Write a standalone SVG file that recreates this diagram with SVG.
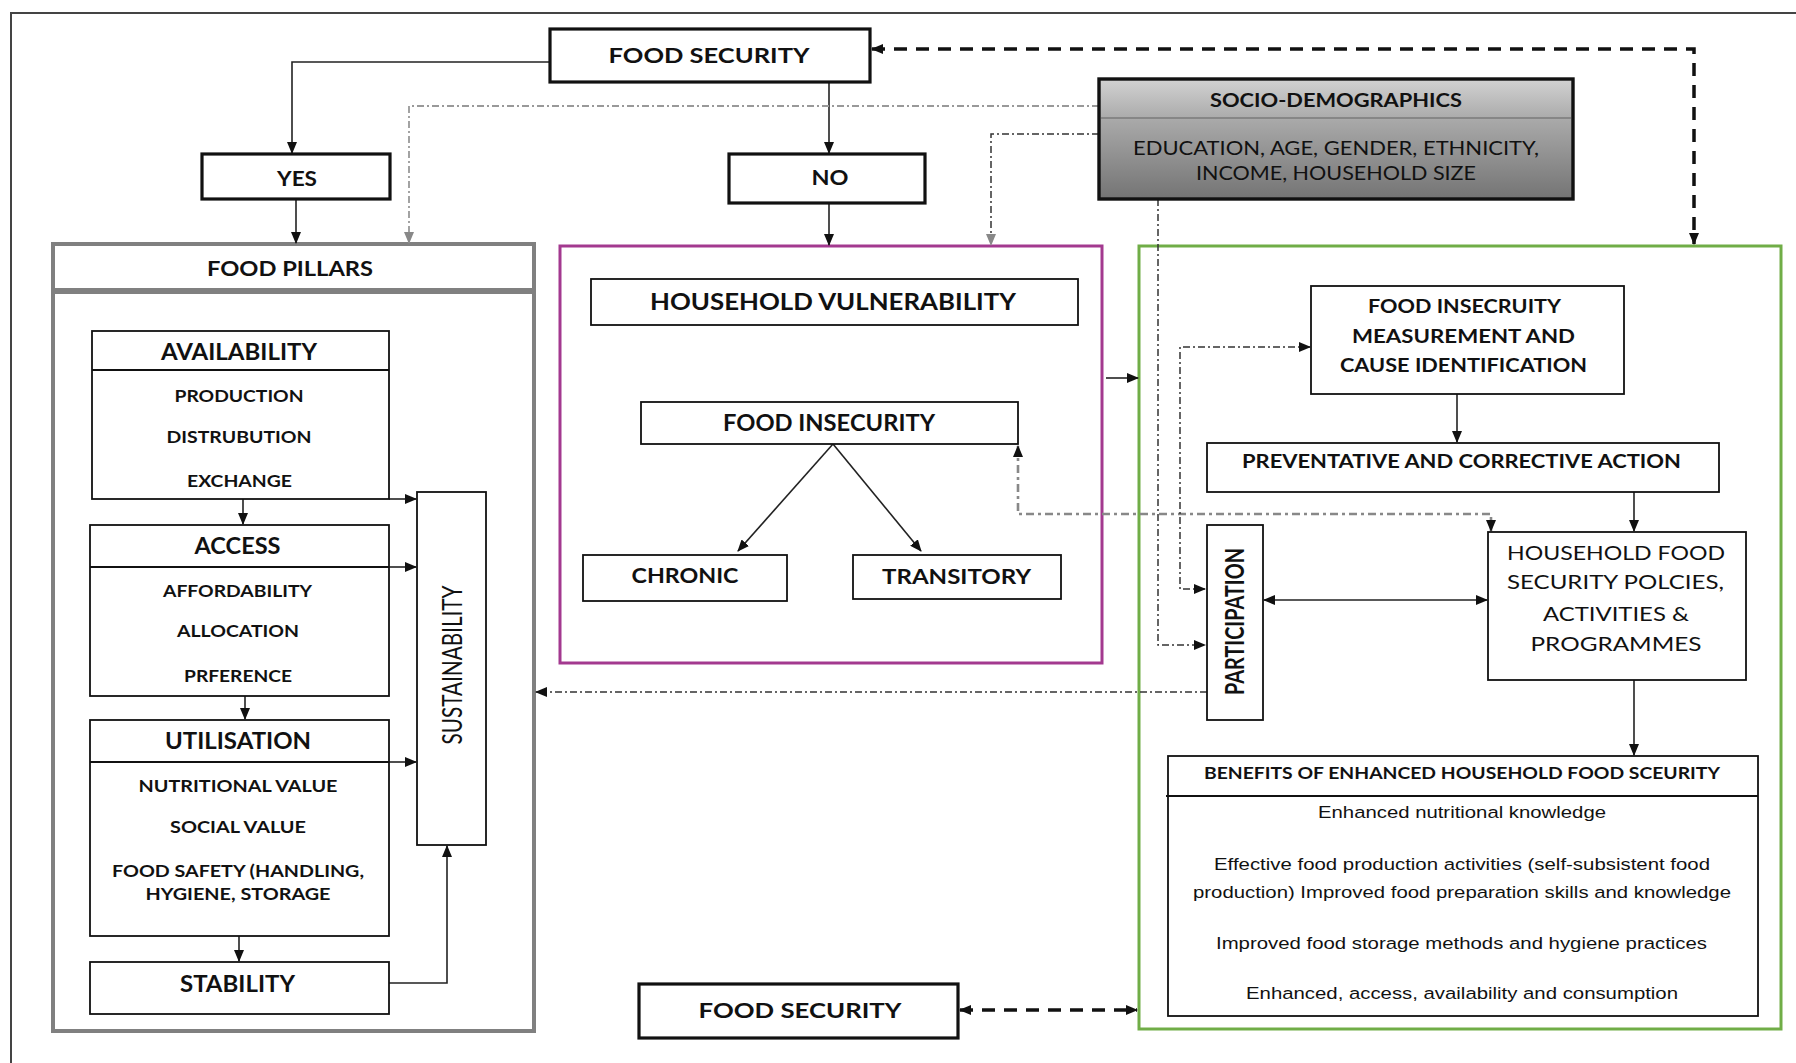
<svg xmlns="http://www.w3.org/2000/svg" width="1796" height="1063" viewBox="0 0 1796 1063">
<style>
.t{font-family:Lato,"Open Sans","Liberation Sans",sans-serif;fill:#111;text-anchor:middle}
.b{font-weight:700}
.ar{font-family:"Liberation Sans",Arial,sans-serif;fill:#111;text-anchor:middle}
.box{fill:#fff;stroke:#111;stroke-width:1.8}
.thick{fill:#fff;stroke:#111;stroke-width:3.2}
.ln{fill:none;stroke:#222;stroke-width:1.6}
.dd{fill:none;stroke:#333;stroke-width:1.5;stroke-dasharray:7,3,2,3}
.ddg{fill:none;stroke:#999;stroke-width:1.8;stroke-dasharray:7,3,2,3}
.ddg2{fill:none;stroke:#888;stroke-width:2.6;stroke-dasharray:8,4,3,4}
.dash{fill:none;stroke:#111;stroke-width:3.5;stroke-dasharray:13,9}
</style>
<defs>
<marker id="a" markerUnits="userSpaceOnUse" markerWidth="12" markerHeight="10" refX="11" refY="5" orient="auto-start-reverse"><path d="M0,0 L12,5 L0,10 z" fill="#111"/></marker>
<marker id="ag" markerUnits="userSpaceOnUse" markerWidth="12" markerHeight="10" refX="11" refY="5" orient="auto-start-reverse"><path d="M0,0 L12,5 L0,10 z" fill="#888"/></marker>
<linearGradient id="sg" x1="0" y1="0" x2="0" y2="1"><stop offset="0" stop-color="#d2d2d2"/><stop offset="0.35" stop-color="#a8a8a8"/><stop offset="1" stop-color="#747474"/></linearGradient>
</defs>
<rect width="1796" height="1063" fill="#fff"/>
<g id="frame"><path d="M1796,13 H11 V1063" fill="none" stroke="#444" stroke-width="2"/></g>

<g id="containers">
<rect x="53" y="244" width="481" height="46" fill="#fff" stroke="#808080" stroke-width="4"/>
<rect x="53" y="292" width="481" height="739" fill="#fff" stroke="#808080" stroke-width="4"/>
<rect x="560" y="246" width="542" height="417" fill="none" stroke="#a3398f" stroke-width="3"/>
<rect x="1139" y="246" width="642" height="783" fill="none" stroke="#70ad47" stroke-width="3"/>
</g>

<g id="connectors">
<path class="ln" d="M550,62 H292 V153" marker-end="url(#a)"/>
<path class="ln" d="M829,82 V153" marker-end="url(#a)"/>
<path class="ln" d="M296,199 V243" marker-end="url(#a)"/>
<path class="ln" d="M829,203 V245" marker-end="url(#a)"/>
<path class="ddg" d="M1099,106 H409 V243" marker-end="url(#ag)"/>
<path class="dd" d="M1099,134 H991 V245" marker-end="url(#ag)"/>
<path class="dd" d="M1158,199 V645 H1205" marker-end="url(#a)"/>
<path class="dash" d="M872,49 H1694 V244" marker-start="url(#a)" marker-end="url(#a)"/>
<path class="ln" d="M1106,378 H1138" marker-end="url(#a)"/>
<path class="ddg2" d="M1018,446 V514 H1491 V531" marker-start="url(#a)" marker-end="url(#a)"/>
<path class="dd" d="M1205,589 H1180 V347 H1310" marker-start="url(#a)" marker-end="url(#a)"/>
<path class="ln" d="M1457,394 V442" marker-end="url(#a)"/>
<path class="ln" d="M1634,492 V531" marker-end="url(#a)"/>
<path class="ln" d="M1264,600 H1487" marker-start="url(#a)" marker-end="url(#a)"/>
<path class="ln" d="M1634,680 V755" marker-end="url(#a)"/>
<path class="dd" d="M1207,692 H536" marker-end="url(#a)"/>
<path class="dash" d="M960,1010 H1137" marker-start="url(#a)" marker-end="url(#a)"/>
<path class="ln" d="M243,499 V524" marker-end="url(#a)"/>
<path class="ln" d="M245,696 V719" marker-end="url(#a)"/>
<path class="ln" d="M239,936 V961" marker-end="url(#a)"/>
<path class="ln" d="M389,499 H416" marker-end="url(#a)"/>
<path class="ln" d="M389,567 H416" marker-end="url(#a)"/>
<path class="ln" d="M389,762 H416" marker-end="url(#a)"/>
<path class="ln" d="M389,983 H447 V846" marker-end="url(#a)"/>
<path class="ln" d="M833,444 L738,551" marker-end="url(#a)"/>
<path class="ln" d="M833,444 L921,551" marker-end="url(#a)"/>
</g>

<g id="food-security-top"><rect class="thick" x="550" y="29" width="320" height="53"/><text class="t b" x="709" y="63" font-size="21" textLength="201" lengthAdjust="spacingAndGlyphs">FOOD SECURITY</text></g>
<g id="yes"><rect class="thick" x="202" y="154" width="188" height="45"/><text class="t b" x="297" y="186" font-size="21" textLength="40" lengthAdjust="spacingAndGlyphs">YES</text></g>
<g id="no"><rect class="thick" x="729" y="154" width="196" height="49"/><text class="t b" x="830" y="185" font-size="21" textLength="37" lengthAdjust="spacingAndGlyphs">NO</text></g>
<g id="food-pillars"><text class="t b" x="290" y="276" font-size="20" textLength="166" lengthAdjust="spacingAndGlyphs">FOOD PILLARS</text></g>

<g id="availability"><rect class="box" x="92" y="331" width="297" height="168"/><line x1="92" y1="370" x2="389" y2="370" stroke="#111" stroke-width="1.8"/>
<text class="t b" x="239" y="360" font-size="22" textLength="156" lengthAdjust="spacingAndGlyphs">AVAILABILITY</text>
<text class="t b" x="239" y="401.5" font-size="17" textLength="129" lengthAdjust="spacingAndGlyphs">PRODUCTION</text>
<text class="t b" x="239" y="443" font-size="17" textLength="145" lengthAdjust="spacingAndGlyphs">DISTRUBUTION</text>
<text class="t b" x="239.5" y="486.5" font-size="17" textLength="105" lengthAdjust="spacingAndGlyphs">EXCHANGE</text></g>
<g id="access"><rect class="box" x="90" y="525" width="299" height="171"/><line x1="90" y1="567" x2="389" y2="567" stroke="#111" stroke-width="1.8"/>
<text class="t b" x="237.5" y="554" font-size="22" textLength="86" lengthAdjust="spacingAndGlyphs">ACCESS</text>
<text class="t b" x="237.5" y="596.5" font-size="17" textLength="149" lengthAdjust="spacingAndGlyphs">AFFORDABILITY</text>
<text class="t b" x="238" y="637" font-size="17" textLength="122" lengthAdjust="spacingAndGlyphs">ALLOCATION</text>
<text class="t b" x="238" y="681.5" font-size="17" textLength="108" lengthAdjust="spacingAndGlyphs">PRFERENCE</text></g>
<g id="utilisation"><rect class="box" x="90" y="720" width="299" height="216"/><line x1="90" y1="762" x2="389" y2="762" stroke="#111" stroke-width="1.8"/>
<text class="t b" x="238" y="749" font-size="22" textLength="146" lengthAdjust="spacingAndGlyphs">UTILISATION</text>
<text class="t b" x="238" y="791.5" font-size="17" textLength="199" lengthAdjust="spacingAndGlyphs">NUTRITIONAL VALUE</text>
<text class="t b" x="238" y="832.5" font-size="17" textLength="136" lengthAdjust="spacingAndGlyphs">SOCIAL VALUE</text>
<text class="t b" x="238" y="877" font-size="17" textLength="252" lengthAdjust="spacingAndGlyphs">FOOD SAFETY (HANDLING,</text>
<text class="t b" x="238" y="900" font-size="17" textLength="185" lengthAdjust="spacingAndGlyphs">HYGIENE, STORAGE</text></g>
<g id="stability"><rect class="box" x="90" y="962" width="299" height="52"/><text class="t b" x="237.5" y="991.5" font-size="22" textLength="115" lengthAdjust="spacingAndGlyphs">STABILITY</text></g>
<g id="sustainability"><rect class="box" x="417" y="492" width="69" height="353"/><text class="t" transform="translate(462,665) rotate(-90)" x="0" y="0" font-size="27" textLength="159" lengthAdjust="spacingAndGlyphs">SUSTAINABILITY</text></g>

<g id="household-vulnerability"><rect class="box" x="591" y="279" width="487" height="46"/><text class="t b" x="833" y="310" font-size="23" textLength="366" lengthAdjust="spacingAndGlyphs">HOUSEHOLD VULNERABILITY</text></g>
<g id="food-insecurity"><rect class="box" x="641" y="402" width="377" height="42"/><text class="t b" x="829" y="431" font-size="22" textLength="212" lengthAdjust="spacingAndGlyphs">FOOD INSECURITY</text></g>
<g id="chronic"><rect class="box" x="583" y="555" width="204" height="46"/><text class="t b" x="685" y="583" font-size="21" textLength="107" lengthAdjust="spacingAndGlyphs">CHRONIC</text></g>
<g id="transitory"><rect class="box" x="853" y="555" width="208" height="44"/><text class="t b" x="956.5" y="584" font-size="21" textLength="149" lengthAdjust="spacingAndGlyphs">TRANSITORY</text></g>

<g id="socio-demographics"><rect x="1099" y="79" width="474" height="120" fill="url(#sg)" stroke="#111" stroke-width="3.4"/><line x1="1101" y1="118" x2="1571" y2="118" stroke="#7a7a7a" stroke-width="1.5"/>
<text class="t b" x="1336" y="107" font-size="18.5" textLength="252" lengthAdjust="spacingAndGlyphs">SOCIO-DEMOGRAPHICS</text>
<text class="t" x="1336" y="155" font-size="18.5" textLength="406" lengthAdjust="spacingAndGlyphs">EDUCATION, AGE, GENDER, ETHNICITY,</text>
<text class="t" x="1336" y="180" font-size="18.5" textLength="280" lengthAdjust="spacingAndGlyphs">INCOME, HOUSEHOLD SIZE</text></g>

<g id="measurement"><rect class="box" x="1311" y="286" width="313" height="108"/>
<text class="t b" x="1464.5" y="313" font-size="18" textLength="193" lengthAdjust="spacingAndGlyphs">FOOD INSECRUITY</text>
<text class="t b" x="1463.5" y="343" font-size="18" textLength="223" lengthAdjust="spacingAndGlyphs">MEASUREMENT AND</text>
<text class="t b" x="1463.5" y="371.5" font-size="18" textLength="247" lengthAdjust="spacingAndGlyphs">CAUSE IDENTIFICATION</text></g>
<g id="preventative"><rect class="box" x="1207" y="443" width="512" height="49"/><text class="t b" x="1461.5" y="468" font-size="18.5" textLength="439" lengthAdjust="spacingAndGlyphs">PREVENTATIVE AND CORRECTIVE ACTION</text></g>
<g id="household-food-policies"><rect class="box" x="1488" y="532" width="258" height="148"/>
<text class="t" x="1616" y="560" font-size="19.5" textLength="218" lengthAdjust="spacingAndGlyphs">HOUSEHOLD FOOD</text>
<text class="t" x="1615.5" y="589" font-size="19.5" textLength="217" lengthAdjust="spacingAndGlyphs">SECURITY POLCIES,</text>
<text class="t" x="1616" y="620.5" font-size="19.5" textLength="146" lengthAdjust="spacingAndGlyphs">ACTIVITIES &amp;</text>
<text class="t" x="1616" y="650.5" font-size="19.5" textLength="171" lengthAdjust="spacingAndGlyphs">PROGRAMMES</text></g>
<g id="participation"><rect class="box" x="1207" y="525" width="56" height="195"/><text class="t b" transform="translate(1244,621.5) rotate(-90)" x="0" y="0" font-size="26" textLength="147" lengthAdjust="spacingAndGlyphs">PARTICIPATION</text></g>
<g id="benefits"><rect class="box" x="1168" y="756" width="590" height="260"/><line x1="1166" y1="796" x2="1758" y2="796" stroke="#111" stroke-width="1.8"/>
<text class="t b" x="1462" y="779" font-size="16.3" textLength="516" lengthAdjust="spacingAndGlyphs">BENEFITS OF ENHANCED HOUSEHOLD FOOD SCEURITY</text>
<text class="ar" x="1462" y="818" font-size="16.3" textLength="288" lengthAdjust="spacingAndGlyphs">Enhanced nutritional knowledge</text>
<text class="ar" x="1462" y="870" font-size="16.3" textLength="496" lengthAdjust="spacingAndGlyphs">Effective food production activities (self-subsistent food</text>
<text class="ar" x="1462" y="897.5" font-size="16.3" textLength="538" lengthAdjust="spacingAndGlyphs">production) Improved food preparation skills and knowledge</text>
<text class="ar" x="1461.5" y="949" font-size="16.3" textLength="491" lengthAdjust="spacingAndGlyphs">Improved food storage methods and hygiene practices</text>
<text class="ar" x="1462" y="999" font-size="16.3" textLength="432" lengthAdjust="spacingAndGlyphs">Enhanced, access, availability and consumption</text></g>
<g id="food-security-bottom"><rect class="thick" x="639" y="984" width="319" height="54"/><text class="t b" x="800" y="1018" font-size="21" textLength="203" lengthAdjust="spacingAndGlyphs">FOOD SECURITY</text></g>
</svg>
